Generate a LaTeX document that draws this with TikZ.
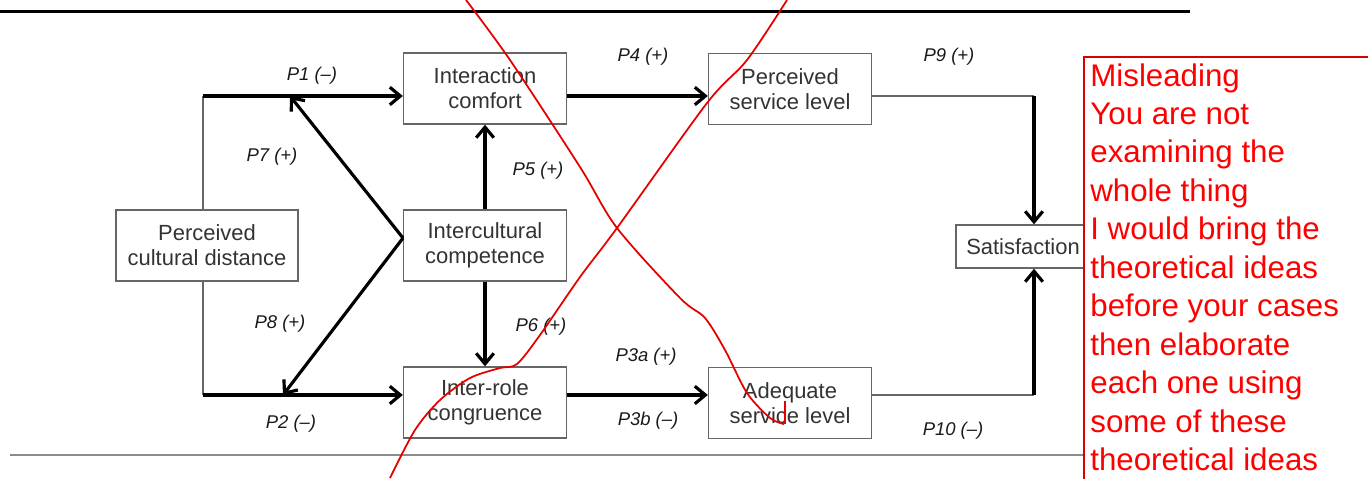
\documentclass[tikz,border=0pt]{standalone}
\usepackage{fontspec}
\setmainfont{Liberation Sans}
\usetikzlibrary{arrows.meta}

\begin{document}
\begin{tikzpicture}[
	x=0.02cm, y=-0.02cm,
	box/.style={ draw=black!60, line width=0.8pt, minimum width=3.26cm, minimum height=1.42cm, align=center, text=black!80, font=\fontsize{12.5}{14.3}\selectfont },
	plabel/.style={ font=\fontsize{10.5}{12}\selectfont\itshape, text=black!90 },
	arr/.style={ line width=1.8pt, -{Straight Barb[length=6pt,width=10pt,line width=1.8pt]} },
	thin/.style={ draw=black!60, line width=0.8pt },
	scribble/.style={ red!90!black, line width=1pt }
]
\useasboundingbox (0,0) rectangle (1368,478);

\draw[line width=1.7pt] (0,11) -- (1190,11);
\draw[black!45, line width=1.1pt] (10,455) -- (1084,455);

\node at (207,245.5) (pcd) [box,minimum width=3.64cm] {Perceived\\cultural distance};
\node at (485,88.5) (comfort) [box] {Interaction\\comfort};
\node at (485,245.5) (compet) [box] {Intercultural\\competence};
\node at (485,402.5) (congr) [box] {Inter-role\\congruence};
\node at (790,89) (psl) [box] {Perceived\\service level};
\node at (790,403) (asl) [box] {Adequate\\service level};
\node at (1023,246.5) (satis) [box,minimum width=2.68cm,minimum height=0.86cm] {Satisfaction};

\coordinate (tl) at (203,96);
\coordinate (bl) at (203,395);
\coordinate (v) at (403,238);
\coordinate (p7end) at (290,96);
\coordinate (p8end) at (283,395);
\coordinate (tr) at (1034,96);
\coordinate (br) at (1034,395);

\draw[thin] (pcd.north -| tl) -- (tl);
\draw[thin] (pcd.south -| bl) -- (bl);
\draw[arr] (tl) -- (comfort.west |- tl);
\draw[arr] (bl) -- (congr.west |- bl);
\draw[arr] (v) -- (p7end);
\draw[arr] (v) -- (p8end);
\draw[arr] (compet.north) -- (comfort.south);
\draw[arr] (compet.south) -- (congr.north);
\draw[arr] (comfort.east |- tl) -- (psl.west |- tl);
\draw[arr] (congr.east |- bl) -- (asl.west |- bl);
\draw[thin] (psl.east |- tr) -- (tr);
\draw[thin] (asl.east |- br) -- (br);
\draw[arr] (tr) -- (satis.north -| tr);
\draw[arr] (br) -- (satis.south -| br);

\node at (312,76) (p1) [plabel] {P1 (–)};
\node at (272,157) (p7) [plabel] {P7 (+)};
\node at (538,171) (p5) [plabel] {P5 (+)};
\node at (280,324) (p8) [plabel] {P8 (+)};
\node at (291,424) (p2) [plabel] {P2 (–)};
\node at (541,327) (p6) [plabel] {P6 (+)};
\node at (643,57) (p4) [plabel] {P4 (+)};
\node at (646,357) (p3a) [plabel] {P3a (+)};
\node at (648,421) (p3b) [plabel] {P3b (–)};
\node at (949,57) (p9) [plabel] {P9 (+)};
\node at (953,431) (p10) [plabel] {P10 (–)};

% reviewer's marks
\draw[scribble] plot[smooth,tension=0.5] coordinates {(466,0) (510,60) (580,167) (617,228) (680,298) (705,318) (725,350) (747,393) (770,418) (784,424)};
\draw[scribble] (785,424) -- (785,401);
\draw[scribble] plot[smooth,tension=0.5] coordinates {(787,0) (747,60) (707,103) (617,228) (580,277) (540,335) (517,364) (500,368) (470,378) (440,400) (415,430) (390,478)};

\fill[white] (1084,57) rectangle (1380,490);
\draw[red!85!black, line width=1pt] (1380,57) -- (1084,57) -- (1084,490);
\node at (1090,63) (note) [anchor=north west, inner sep=0pt, align=left, text=red, font=\fontsize{17.8}{21.9}\selectfont] {Misleading\\You are not\\examining the\\whole thing\\I would bring the\\theoretical ideas\\before your cases\\then elaborate\\each one using\\some of these\\theoretical ideas};

\end{tikzpicture}
\end{document}
